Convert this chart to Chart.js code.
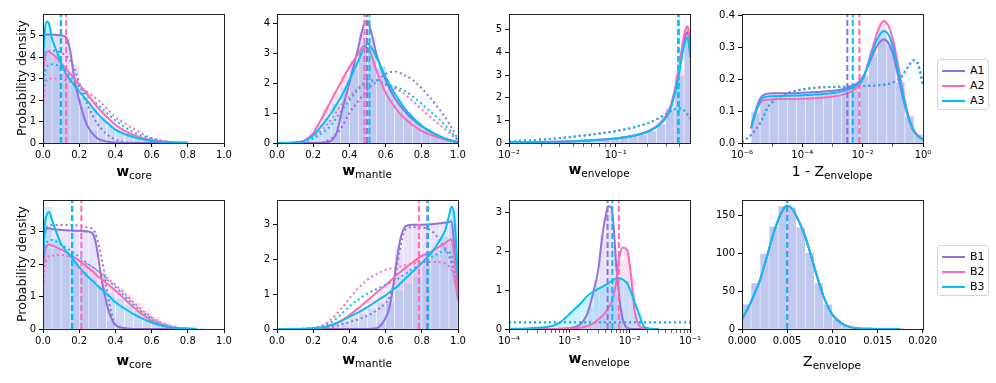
<!DOCTYPE html>
<html>
<head>
<meta charset="utf-8">
<script src="https://cdn.jsdelivr.net/npm/chart.js@4.4.1/dist/chart.umd.min.js"></script>
<style>
  html, body { margin: 0; padding: 0; background: #fff; }
  body { width: 996px; height: 383px; position: relative; overflow: hidden; font-family: 'DejaVu Sans', sans-serif; }
  canvas { position: absolute; }
  .xl { position: absolute; font-size: 14px; line-height: 14px; white-space: nowrap; transform: translateX(-50%); color: #000; }
  .xl b { font-weight: bold; }
  .xl .s { font-size: 10.5px; position: relative; top: 3px; }
  .yl { position: absolute; font-size: 12.5px; line-height: 13px; white-space: nowrap; transform: translate(-50%, -50%) rotate(-90deg); color: #000; }
  .leg { position: absolute; border: 1px solid #d4d4d4; border-radius: 3px; background: #fff; box-sizing: border-box; }
  .leg .row { position: absolute; left: 0; height: 14px; width: 100%; }
  .leg .sw { position: absolute; left: 4px; top: 6px; width: 23px; height: 2px; }
  .leg .tx { position: absolute; left: 32px; top: 0; font-size: 11px; line-height: 14px; color: #000; }
</style>
</head>
<body>
<script>
// ---------------- colours / series names ----------------
const seriesA = ['A1', 'A2', 'A3'];
const seriesB = ['B1', 'B2', 'B3'];
const seriesColors = ['#9370DB', '#FF69B4', '#00BFFF'];

// ---------------- tick labels ----------------
const ticksUnit = [0, 0.2, 0.4, 0.6, 0.8, 1.0];
const ticksUnitLabels = ['0.0', '0.2', '0.4', '0.6', '0.8', '1.0'];
const ticksEnvA = [0.01, 0.1];
const ticksEnvALabels = ['10⁻²', '10⁻¹'];
const ticksEnvAMinor = [0.02, 0.03, 0.04, 0.05, 0.06, 0.07, 0.08, 0.09, 0.2, 0.3, 0.4];
const ticksZA = [1e-6, 1e-4, 1e-2, 1];
const ticksZALabels = ['10⁻⁶', '10⁻⁴', '10⁻²', '10⁰'];
const ticksZAMinor = [1e-5, 1e-3, 1e-1];
const ticksEnvB = [1e-4, 1e-3, 1e-2, 1e-1];
const ticksEnvBLabels = ['10⁻⁴', '10⁻³', '10⁻²', '10⁻¹'];
const ticksEnvBMinor = [2e-4, 3e-4, 4e-4, 5e-4, 6e-4, 7e-4, 8e-4, 9e-4, 2e-3, 3e-3, 4e-3, 5e-3, 6e-3, 7e-3, 8e-3, 9e-3, 2e-2, 3e-2, 4e-2, 5e-2, 6e-2, 7e-2, 8e-2, 9e-2];
const ticksZB = [0, 0.005, 0.01, 0.015, 0.02];
const ticksZBLabels = ['0.000', '0.005', '0.010', '0.015', '0.020'];
const yTicks1 = [0, 1, 2, 3, 4, 5];
const yTicks2 = [0, 1, 2, 3, 4];
const yTicks4 = [0, 0.1, 0.2, 0.3, 0.4];
const yTicks4Labels = ['0.0', '0.1', '0.2', '0.3', '0.4'];
const yTicksB = [0, 1, 2, 3];
const yTicks8 = [0, 50, 100, 150];

// ---------------- Panel 1 : A, w_core ----------------
const p1_grid = [0, 0.01, 0.02, 0.03, 0.05, 0.075, 0.1, 0.125, 0.15, 0.175, 0.2, 0.225, 0.25, 0.3, 0.35, 0.4, 0.45, 0.5, 0.55, 0.6, 0.7, 0.8];
const p1_A1 = [4.9, 5.02, 5.05, 5.05, 5.05, 5.02, 5.0, 4.93, 4.3, 2.9, 2.0, 1.25, 0.72, 0.22, 0.07, 0.02, 0.005, 0, 0, 0, 0, 0];
const p1_A2 = [3.3, 4.05, 4.25, 4.25, 4.15, 3.97, 3.72, 3.45, 3.22, 2.98, 2.72, 2.47, 2.22, 1.68, 1.23, 0.85, 0.58, 0.38, 0.24, 0.14, 0.04, 0.01];
const p1_A3 = [3.6, 5.2, 5.65, 5.6, 4.85, 4.28, 3.7, 3.25, 2.95, 2.65, 2.4, 2.15, 1.9, 1.38, 0.97, 0.62, 0.42, 0.28, 0.17, 0.09, 0.03, 0.01];
const p1_A1d = [2.9, 3.9, 4.15, 4.25, 4.3, 4.28, 4.2, 4.08, 3.85, 3.4, 2.8, 2.2, 1.7, 0.9, 0.43, 0.15, 0.05, 0.01, 0, 0, 0, 0];
const p1_A2d = [1.7, 2.6, 2.9, 2.98, 3.0, 3.0, 2.98, 2.92, 2.85, 2.75, 2.66, 2.5, 2.35, 2.03, 1.62, 1.2, 0.92, 0.66, 0.42, 0.23, 0.05, 0.01];
const p1_A3d = [2.4, 3.2, 3.5, 3.62, 3.66, 3.62, 3.5, 3.32, 3.1, 2.85, 2.6, 2.38, 2.15, 1.8, 1.42, 1.05, 0.75, 0.5, 0.33, 0.2, 0.05, 0.01];
const p1_bins = [0.025, 0.075, 0.125, 0.175, 0.225, 0.275, 0.325, 0.375, 0.425, 0.475, 0.525, 0.575, 0.625, 0.675, 0.725, 0.775];
const p1_hA1 = [5.0, 5.05, 4.95, 3.6, 1.65, 0.55, 0.15, 0.04, 0.01, 0, 0, 0, 0, 0, 0, 0];
const p1_hA2 = [4.1, 3.95, 3.45, 2.95, 2.45, 1.95, 1.45, 1.02, 0.7, 0.46, 0.3, 0.19, 0.1, 0.05, 0.02, 0.01];
const p1_hA3 = [5.4, 4.2, 3.25, 2.65, 2.1, 1.6, 1.15, 0.78, 0.52, 0.35, 0.22, 0.13, 0.07, 0.03, 0.01, 0.01];
const p1_medians = [0.098, 0.128, 0.100];

// ---------------- Panel 2 : A, w_mantle ----------------
const p2_grid = [0, 0.1, 0.15, 0.2, 0.25, 0.3, 0.33, 0.36, 0.4, 0.45, 0.48, 0.5, 0.52, 0.55, 0.6, 0.65, 0.7, 0.75, 0.8, 0.85, 0.9, 0.95, 1.0];
const p2_A1 = [0, 0, 0, 0, 0.01, 0.08, 0.35, 1.1, 2.0, 3.2, 3.95, 4.05, 3.7, 2.95, 2.1, 1.5, 1.1, 0.78, 0.55, 0.36, 0.22, 0.11, 0.03];
const p2_A2 = [0, 0.02, 0.08, 0.33, 0.85, 1.43, 1.77, 2.1, 2.53, 2.97, 3.25, 3.15, 2.95, 2.4, 1.68, 1.2, 0.85, 0.6, 0.4, 0.27, 0.17, 0.08, 0.02];
const p2_A3 = [0, 0.02, 0.07, 0.25, 0.6, 1.0, 1.3, 1.6, 2.1, 2.75, 3.15, 3.3, 3.2, 2.85, 2.2, 1.65, 1.2, 0.85, 0.57, 0.38, 0.22, 0.1, 0.02];
const p2_A1d = [0, 0, 0, 0, 0.02, 0.15, 0.3, 0.55, 1.0, 1.4, 1.62, 1.76, 1.9, 2.05, 2.3, 2.38, 2.28, 2.1, 1.82, 1.48, 1.1, 0.66, 0.12];
const p2_A2d = [0, 0.02, 0.05, 0.2, 0.45, 0.77, 1.05, 1.3, 1.54, 1.85, 2.0, 2.09, 2.1, 2.1, 1.95, 1.82, 1.65, 1.4, 1.12, 0.85, 0.6, 0.35, 0.08];
const p2_A3d = [0, 0.01, 0.04, 0.15, 0.33, 0.6, 0.85, 1.1, 1.43, 1.8, 1.97, 2.04, 2.07, 2.08, 1.95, 1.88, 1.76, 1.55, 1.3, 1.03, 0.77, 0.45, 0.1];
const p2_bins = [0.025, 0.075, 0.125, 0.175, 0.225, 0.275, 0.325, 0.375, 0.425, 0.475, 0.525, 0.575, 0.625, 0.675, 0.725, 0.775, 0.825, 0.875, 0.925, 0.975];
const p2_hA1 = [0, 0, 0, 0, 0, 0.02, 0.3, 1.3, 2.6, 3.7, 3.5, 2.5, 1.8, 1.3, 0.93, 0.66, 0.45, 0.29, 0.16, 0.06];
const p2_hA2 = [0, 0.01, 0.05, 0.2, 0.6, 1.15, 1.7, 2.25, 2.75, 3.15, 2.7, 2.0, 1.45, 1.0, 0.72, 0.5, 0.33, 0.22, 0.12, 0.05];
const p2_hA3 = [0, 0.01, 0.04, 0.15, 0.42, 0.8, 1.3, 1.85, 2.4, 3.0, 3.1, 2.55, 1.9, 1.42, 1.02, 0.7, 0.47, 0.3, 0.16, 0.06];
const p2_medians = [0.497, 0.483, 0.511];

// ---------------- Panel 3 : A, w_envelope (log) ----------------
const p3_grid = [0.01, 0.02, 0.03, 0.05, 0.07, 0.1, 0.15, 0.2, 0.25, 0.3, 0.33, 0.36, 0.39, 0.42, 0.44, 0.46, 0.47, 0.48, 0.49, 0.5];
const p3_A1 = [0.02, 0.04, 0.06, 0.1, 0.14, 0.2, 0.33, 0.5, 0.78, 1.2, 1.65, 2.3, 3.15, 4.1, 4.6, 4.85, 4.9, 4.8, 4.5, 4.1];
const p3_A2 = [0.02, 0.04, 0.06, 0.1, 0.14, 0.2, 0.33, 0.52, 0.8, 1.25, 1.7, 2.4, 3.25, 4.25, 4.8, 5.1, 5.15, 5.05, 4.7, 4.3];
const p3_A3 = [0.02, 0.04, 0.06, 0.1, 0.14, 0.2, 0.32, 0.5, 0.75, 1.15, 1.55, 2.2, 2.95, 3.85, 4.35, 4.62, 4.66, 4.55, 4.2, 3.8];
const p3_prior = [0.07, 0.15, 0.22, 0.33, 0.42, 0.52, 0.7, 0.87, 1.08, 1.3, 1.42, 1.5, 1.53, 1.5, 1.43, 1.33, 1.27, 1.2, 1.13, 1.08];
const p3_bins = [0.01103, 0.01346, 0.01643, 0.02005, 0.02447, 0.02985, 0.03643, 0.04446, 0.05425, 0.0662, 0.0808, 0.0986, 0.1203, 0.1468, 0.1791, 0.2186, 0.2667, 0.3255, 0.3972, 0.4847];
const p3_hA1 = [0.02, 0.03, 0.04, 0.05, 0.06, 0.07, 0.09, 0.1, 0.12, 0.14, 0.16, 0.19, 0.23, 0.28, 0.36, 0.5, 0.8, 1.5, 3.0, 4.8];
const p3_hA2 = [0.02, 0.03, 0.04, 0.05, 0.06, 0.07, 0.09, 0.1, 0.12, 0.14, 0.16, 0.19, 0.23, 0.28, 0.37, 0.52, 0.82, 1.55, 3.2, 5.2];
const p3_hA3 = [0.02, 0.03, 0.04, 0.05, 0.06, 0.07, 0.09, 0.1, 0.12, 0.14, 0.16, 0.19, 0.23, 0.28, 0.36, 0.5, 0.78, 1.45, 2.9, 4.5];
const p3_medians = [0.388, 0.392, 0.386];

// ---------------- Panel 4 : A, 1 - Z_envelope (log) ----------------
const p4_grid = [2e-6, 3e-6, 4e-6, 5e-6, 7e-6, 1e-5, 3e-5, 1e-4, 3e-4, 1e-3, 3e-3, 6e-3, 1e-2, 2e-2, 3e-2, 5e-2, 7e-2, 0.1, 0.15, 0.2, 0.3, 0.5, 0.7, 1.0];
const p4_A1 = [0.047, 0.11, 0.14, 0.15, 0.155, 0.156, 0.156, 0.158, 0.16, 0.164, 0.172, 0.185, 0.205, 0.27, 0.305, 0.325, 0.315, 0.28, 0.21, 0.155, 0.09, 0.035, 0.02, 0.01];
const p4_A2 = [0.045, 0.1, 0.125, 0.133, 0.136, 0.137, 0.138, 0.139, 0.141, 0.146, 0.156, 0.172, 0.2, 0.29, 0.345, 0.383, 0.37, 0.325, 0.245, 0.18, 0.1, 0.04, 0.022, 0.012];
const p4_A3 = [0.047, 0.105, 0.133, 0.142, 0.146, 0.147, 0.148, 0.15, 0.152, 0.157, 0.166, 0.18, 0.2, 0.28, 0.325, 0.352, 0.342, 0.303, 0.228, 0.168, 0.095, 0.037, 0.021, 0.011];
const p4_priorGrid = [1e-6, 2e-6, 3e-6, 4e-6, 5e-6, 7e-6, 1e-5, 3e-5, 1e-4, 3e-4, 1e-3, 3e-3, 1e-2, 3e-2, 0.1, 0.2, 0.3, 0.5, 0.7, 1.0];
const p4_prior = [0.003, 0.025, 0.045, 0.062, 0.08, 0.11, 0.128, 0.155, 0.168, 0.174, 0.176, 0.177, 0.179, 0.181, 0.19, 0.21, 0.235, 0.26, 0.245, 0.18];
const p4_bins = [2.82e-6, 5.62e-6, 1.12e-5, 2.24e-5, 4.47e-5, 8.91e-5, 1.78e-4, 3.55e-4, 7.08e-4, 1.41e-3, 2.82e-3, 5.62e-3, 1.12e-2, 2.24e-2, 4.47e-2, 8.91e-2, 0.178, 0.355, 0.708];
const p4_hA1 = [0.1, 0.15, 0.155, 0.156, 0.156, 0.157, 0.158, 0.16, 0.162, 0.165, 0.17, 0.185, 0.215, 0.27, 0.33, 0.3, 0.19, 0.085, 0.025];
const p4_hA2 = [0.09, 0.13, 0.136, 0.137, 0.138, 0.139, 0.14, 0.141, 0.143, 0.147, 0.155, 0.172, 0.205, 0.29, 0.38, 0.33, 0.19, 0.08, 0.025];
const p4_hA3 = [0.095, 0.14, 0.146, 0.147, 0.148, 0.149, 0.15, 0.152, 0.154, 0.158, 0.165, 0.18, 0.21, 0.28, 0.355, 0.315, 0.19, 0.082, 0.025];
const p4_medians = [3.1e-3, 7.8e-3, 4.7e-3];

// ---------------- Panel 5 : B, w_core ----------------
const p5_grid = [0, 0.01, 0.02, 0.035, 0.05, 0.1, 0.15, 0.2, 0.25, 0.28, 0.3, 0.32, 0.34, 0.36, 0.38, 0.4, 0.45, 0.5, 0.55, 0.6, 0.65, 0.7, 0.75, 0.8, 0.85];
const p5_B1 = [2.6, 3.0, 3.08, 3.1, 3.08, 3.05, 3.03, 3.02, 3.0, 2.88, 2.4, 1.65, 1.08, 0.6, 0.3, 0.12, 0.03, 0, 0, 0, 0, 0, 0, 0, 0];
const p5_B2 = [1.8, 2.35, 2.55, 2.6, 2.57, 2.45, 2.28, 2.1, 1.88, 1.75, 1.64, 1.55, 1.46, 1.37, 1.28, 1.18, 0.93, 0.67, 0.45, 0.26, 0.13, 0.05, 0.02, 0.01, 0];
const p5_B3 = [2.0, 3.2, 3.5, 3.6, 3.35, 2.62, 2.26, 1.9, 1.6, 1.45, 1.34, 1.24, 1.14, 1.04, 0.93, 0.82, 0.63, 0.46, 0.32, 0.2, 0.11, 0.05, 0.02, 0.01, 0];
const p5_B1d = [2.5, 2.9, 3.1, 3.18, 3.2, 3.2, 3.2, 3.18, 3.12, 3.05, 2.75, 2.3, 1.7, 0.98, 0.45, 0.15, 0.02, 0, 0, 0, 0, 0, 0, 0, 0];
const p5_B2d = [1.3, 1.9, 2.15, 2.25, 2.26, 2.28, 2.22, 2.12, 1.98, 1.88, 1.8, 1.72, 1.63, 1.54, 1.45, 1.36, 1.1, 0.82, 0.57, 0.36, 0.2, 0.1, 0.04, 0.02, 0.01];
const p5_B3d = [1.9, 2.45, 2.65, 2.73, 2.74, 2.6, 2.42, 2.22, 2.0, 1.88, 1.8, 1.7, 1.6, 1.5, 1.4, 1.3, 1.02, 0.76, 0.52, 0.32, 0.17, 0.08, 0.03, 0.01, 0];
const p5_bins = [0.025, 0.075, 0.125, 0.175, 0.225, 0.275, 0.325, 0.375, 0.425, 0.475, 0.525, 0.575, 0.625, 0.675, 0.725, 0.775, 0.825, 0.875];
const p5_hB1 = [3.05, 3.05, 3.05, 3.05, 3.05, 3.0, 1.35, 0.25, 0.04, 0.01, 0, 0, 0, 0, 0, 0, 0, 0];
const p5_hB2 = [2.45, 2.45, 2.3, 2.15, 1.95, 1.78, 1.6, 1.42, 1.25, 1.05, 0.8, 0.56, 0.36, 0.2, 0.09, 0.03, 0.01, 0];
const p5_hB3 = [3.75, 2.75, 2.35, 2.05, 1.75, 1.5, 1.3, 1.1, 0.92, 0.72, 0.55, 0.39, 0.26, 0.15, 0.08, 0.03, 0.01, 0];
const p5_medians = [0.16, 0.212, 0.162];

// ---------------- Panel 6 : B, w_mantle ----------------
const p6_grid = [0, 0.1, 0.2, 0.25, 0.3, 0.35, 0.4, 0.45, 0.5, 0.55, 0.58, 0.6, 0.62, 0.64, 0.66, 0.68, 0.7, 0.72, 0.75, 0.8, 0.85, 0.9, 0.93, 0.95, 0.965, 0.98, 1.0];
const p6_B1 = [0, 0, 0, 0, 0, 0, 0, 0, 0, 0.02, 0.15, 0.32, 0.6, 1.15, 1.9, 2.55, 2.88, 2.98, 3.0, 3.0, 3.01, 3.04, 3.06, 3.08, 3.1, 2.3, 0.9];
const p6_B2 = [0, 0, 0.01, 0.04, 0.1, 0.22, 0.4, 0.6, 0.82, 1.05, 1.18, 1.26, 1.35, 1.45, 1.55, 1.63, 1.72, 1.8, 1.92, 2.1, 2.22, 2.38, 2.47, 2.55, 2.58, 2.0, 0.85];
const p6_B3 = [0, 0, 0.02, 0.05, 0.12, 0.22, 0.35, 0.48, 0.63, 0.8, 0.9, 0.97, 1.05, 1.13, 1.2, 1.3, 1.4, 1.5, 1.65, 1.9, 2.17, 2.55, 2.85, 3.25, 3.52, 3.2, 1.4];
const p6_B1d = [0, 0, 0.01, 0.03, 0.06, 0.12, 0.2, 0.28, 0.38, 0.53, 0.65, 0.75, 0.9, 1.2, 1.7, 2.3, 2.75, 2.9, 2.93, 2.92, 2.84, 2.55, 2.3, 2.1, 1.9, 1.5, 0.9];
const p6_B2d = [0, 0, 0.03, 0.1, 0.28, 0.55, 0.88, 1.18, 1.42, 1.58, 1.65, 1.7, 1.73, 1.76, 1.78, 1.8, 1.83, 1.85, 1.88, 1.92, 1.93, 1.92, 1.88, 1.8, 1.7, 1.4, 0.84];
const p6_B3d = [0, 0, 0.03, 0.08, 0.2, 0.4, 0.65, 0.85, 1.02, 1.15, 1.22, 1.27, 1.32, 1.37, 1.42, 1.48, 1.55, 1.62, 1.72, 1.9, 2.05, 2.2, 2.26, 2.22, 2.1, 1.8, 1.1];
const p6_bins = [0.025, 0.075, 0.125, 0.175, 0.225, 0.275, 0.325, 0.375, 0.425, 0.475, 0.525, 0.575, 0.625, 0.675, 0.725, 0.775, 0.825, 0.875, 0.925, 0.975];
const p6_hB1 = [0, 0, 0, 0, 0, 0, 0, 0, 0, 0, 0.01, 0.15, 0.75, 2.35, 2.98, 3.0, 3.0, 3.02, 3.05, 3.0];
const p6_hB2 = [0, 0, 0, 0, 0.01, 0.05, 0.12, 0.25, 0.42, 0.62, 0.85, 1.1, 1.35, 1.55, 1.75, 1.95, 2.12, 2.28, 2.45, 2.55];
const p6_hB3 = [0, 0, 0, 0, 0.01, 0.04, 0.1, 0.2, 0.3, 0.43, 0.58, 0.75, 0.92, 1.1, 1.3, 1.52, 1.8, 2.15, 2.65, 3.45];
const p6_medians = [0.83, 0.784, 0.834];

// ---------------- Panel 7 : B, w_envelope (log) ----------------
const p7_grid = [1e-4, 2e-4, 3e-4, 5e-4, 7e-4, 1e-3, 1.3e-3, 1.6e-3, 2e-3, 2.5e-3, 3e-3, 3.5e-3, 4e-3, 4.5e-3, 5e-3, 5.5e-3, 6e-3, 6.5e-3, 7e-3, 7.7e-3, 8.5e-3, 9.3e-3, 1.05e-2, 1.2e-2, 1.4e-2, 1.7e-2, 2e-2, 3e-2];
const p7_B1 = [0, 0, 0, 0, 0.005, 0.02, 0.06, 0.15, 0.4, 0.95, 1.5, 2.35, 2.9, 3.15, 3.1, 2.5, 1.6, 1.05, 0.6, 0.24, 0.08, 0.02, 0, 0, 0, 0, 0, 0];
const p7_B2 = [0, 0, 0, 0, 0.005, 0.01, 0.02, 0.04, 0.08, 0.15, 0.24, 0.33, 0.43, 0.55, 0.7, 0.92, 1.2, 1.7, 1.95, 2.09, 2.07, 1.97, 1.4, 0.5, 0.12, 0.02, 0, 0];
const p7_B3 = [0.005, 0.015, 0.03, 0.07, 0.17, 0.38, 0.55, 0.68, 0.85, 0.96, 1.03, 1.08, 1.13, 1.18, 1.23, 1.27, 1.3, 1.31, 1.3, 1.27, 1.22, 1.15, 0.95, 0.7, 0.42, 0.08, 0.02, 0];
const p7_priorGrid = [1e-4, 1e-1];
const p7_prior = [0.17, 0.17];
const p7_bins = [5.62e-4, 7.08e-4, 8.91e-4, 1.12e-3, 1.41e-3, 1.78e-3, 2.24e-3, 2.82e-3, 3.55e-3, 4.47e-3, 5.62e-3, 7.08e-3, 8.91e-3, 1.12e-2, 1.41e-2, 1.78e-2, 2.24e-2];
const p7_hB1 = [0, 0, 0.01, 0.03, 0.08, 0.2, 0.55, 1.25, 2.4, 3.05, 2.1, 0.5, 0.05, 0, 0, 0, 0];
const p7_hB2 = [0, 0, 0.01, 0.01, 0.03, 0.05, 0.1, 0.2, 0.33, 0.5, 0.9, 1.75, 2.05, 1.3, 0.2, 0.02, 0];
const p7_hB3 = [0.1, 0.17, 0.3, 0.45, 0.6, 0.75, 0.88, 0.98, 1.08, 1.16, 1.25, 1.3, 1.22, 0.9, 0.4, 0.06, 0.01];
const p7_medians = [4.3e-3, 6.6e-3, 5.16e-3];

// ---------------- Panel 8 : B, Z_envelope ----------------
const p8_grid = [0, 0.0005, 0.001, 0.0015, 0.002, 0.0025, 0.003, 0.0035, 0.004, 0.0045, 0.005, 0.0055, 0.006, 0.0065, 0.007, 0.0075, 0.008, 0.0085, 0.009, 0.0095, 0.01, 0.011, 0.012, 0.013, 0.014, 0.015, 0.0175];
const p8_kde = [13, 24, 36, 50, 65, 85, 106, 127, 144, 157, 163, 160, 150, 137, 122, 103, 82, 62, 44, 30, 19, 7.5, 2.5, 0.8, 0.3, 0.1, 0];
const p8_bins = [0.0005, 0.0015, 0.0025, 0.0035, 0.0045, 0.0055, 0.0065, 0.0075, 0.0085, 0.0095, 0.0105, 0.0115, 0.0125, 0.0135, 0.0145, 0.0155, 0.0165, 0.0175];
const p8_hist = [32, 60, 99, 135, 162, 160, 134, 100, 60, 32, 12, 4, 1.2, 0.4, 0.1, 0.05, 0.02, 0.01];
const p8_medians = [0.005, 0.005, 0.005];

// ================= layout helpers =================
const YW = 34, PADT = 8, PADR = 16, XH = 24;

function rgba(hex, a) {
  const n = parseInt(hex.slice(1), 16);
  return `rgba(${(n >> 16) & 255},${(n >> 8) & 255},${n & 255},${a})`;
}
function pts(xs, ys) { return xs.map((x, i) => ({ x: x, y: ys[i] })); }

const framePlugin = {
  id: 'frame',
  afterDraw(chart) {
    const a = chart.chartArea, ctx = chart.ctx;
    ctx.save();
    ctx.strokeStyle = '#222';
    ctx.lineWidth = 1;
    ctx.strokeRect(Math.floor(a.left) + 0.5, Math.floor(a.top) + 0.5, Math.round(a.right - a.left), Math.round(a.bottom - a.top));
    ctx.restore();
  }
};

function tickList(major, labels, minor) {
  const t = major.map((v, i) => ({ value: v, lab: labels[i], major: true }));
  (minor || []).forEach(v => t.push({ value: v, lab: '', major: false }));
  t.sort((a, b) => a.value - b.value);
  return t;
}

function panel(p) {
  const w = (p.rect[2] - p.rect[0]) + YW + PADR;
  const h = (p.rect[3] - p.rect[1]) + PADT + XH;
  const c = document.createElement('canvas');
  c.width = w; c.height = h;
  c.style.left = (p.rect[0] - YW) + 'px';
  c.style.top = (p.rect[1] - PADT) + 'px';
  c.style.width = w + 'px'; c.style.height = h + 'px';
  document.body.appendChild(c);

  const ds = [];
  p.hist.forEach((hv, i) => ds.push({
    type: 'bar', data: pts(p.bins, hv), backgroundColor: rgba(seriesColors[i], 0.2),
    borderWidth: 0, stack: 'hist', barThickness: 'flex', barPercentage: 1, categoryPercentage: 0.86,
    order: 400 - i
  }));
  p.prior.forEach((pv, i) => ds.push({
    type: 'line', data: pts(p.priorGrid, pv), borderColor: seriesColors[i], borderWidth: 2,
    borderDash: [2, 3], pointRadius: 0, fill: false, cubicInterpolationMode: 'monotone', order: 300 - i
  }));
  p.kde.forEach((kv, i) => ds.push({
    type: 'line', data: pts(p.grid, kv), borderColor: seriesColors[i], borderWidth: 2,
    pointRadius: 0, fill: false, cubicInterpolationMode: 'monotone', order: 200 - i
  }));
  p.medians.forEach((m, i) => ds.push({
    type: 'line', data: [{ x: m, y: 0 }, { x: m, y: p.yMax }], borderColor: seriesColors[i], borderWidth: 2,
    borderDash: [6, 3], pointRadius: 0, fill: false, order: 100 - i
  }));

  const xt = tickList(p.xTicks, p.xLabels, p.xMinor);
  const yt = tickList(p.yTicks, p.yLabels, []);
  const font = { family: 'DejaVu Sans', size: 10 };
  const grid = {
    display: true, drawOnChartArea: false, drawTicks: true, tickLength: 4, color: '#000',
    tickColor: '#000', offset: false,
    tickWidth: (ctx) => (ctx.tick && ctx.tick.major === false) ? 0.6 : 1
  };

  new Chart(c, {
    type: 'bar',
    data: { datasets: ds },
    options: {
      responsive: false, animation: false, devicePixelRatio: 1,
      layout: { padding: { top: PADT, right: PADR, left: 0, bottom: 0 } },
      plugins: { legend: { display: false }, tooltip: { enabled: false } },
      scales: {
        x: {
          type: p.xType, min: p.xMin, max: p.xMax, offset: false,
          grid: grid, border: { display: false },
          ticks: { autoSkip: false, maxRotation: 0, minRotation: 0, padding: 2, color: '#000', font: font,
            callback: (v, i, t) => t[i].lab },
          afterBuildTicks: (s) => { s.ticks = xt.map(o => Object.assign({}, o)); },
          afterFit: (s) => { s.height = XH; }
        },
        y: {
          type: 'linear', min: 0, max: p.yMax, stacked: false,
          grid: grid, border: { display: false },
          ticks: { autoSkip: false, padding: 3, color: '#000', font: font,
            callback: (v, i, t) => t[i].lab },
          afterBuildTicks: (s) => { s.ticks = yt.map(o => Object.assign({}, o)); },
          afterFit: (s) => { s.width = YW; }
        }
      }
    },
    plugins: [framePlugin]
  });
}

function addText(cls, html, x, y) {
  const d = document.createElement('div');
  d.className = cls; d.innerHTML = html;
  d.style.left = x + 'px'; d.style.top = y + 'px';
  document.body.appendChild(d);
}

function addLegend(names, left, top) {
  const box = document.createElement('div');
  box.className = 'leg';
  box.style.left = left + 'px'; box.style.top = top + 'px';
  box.style.width = '52px'; box.style.height = '51px';
  names.forEach((n, i) => {
    const r = document.createElement('div');
    r.className = 'row'; r.style.top = (4 + i * 15) + 'px';
    r.innerHTML = `<div class="sw" style="background:${seriesColors[i]}"></div><div class="tx">${n}</div>`;
    box.appendChild(r);
  });
  document.body.appendChild(box);
}

// ================= build =================
const unitLab = ticksUnitLabels;
const ints = (a) => a.map(v => String(v));

panel({ rect: [43, 13, 224, 143], xType: 'linear', xMin: 0, xMax: 1, yMax: 6.0,
  xTicks: ticksUnit, xLabels: unitLab, yTicks: yTicks1, yLabels: ints(yTicks1),
  bins: p1_bins, hist: [p1_hA1, p1_hA2, p1_hA3],
  grid: p1_grid, kde: [p1_A1, p1_A2, p1_A3],
  priorGrid: p1_grid, prior: [p1_A1d, p1_A2d, p1_A3d], medians: p1_medians });

panel({ rect: [277, 13, 458, 143], xType: 'linear', xMin: 0, xMax: 1, yMax: 4.3,
  xTicks: ticksUnit, xLabels: unitLab, yTicks: yTicks2, yLabels: ints(yTicks2),
  bins: p2_bins, hist: [p2_hA1, p2_hA2, p2_hA3],
  grid: p2_grid, kde: [p2_A1, p2_A2, p2_A3],
  priorGrid: p2_grid, prior: [p2_A1d, p2_A2d, p2_A3d], medians: p2_medians });

panel({ rect: [509, 13, 690, 143], xType: 'logarithmic', xMin: 0.01, xMax: 0.498, yMax: 5.7,
  xTicks: ticksEnvA, xLabels: ticksEnvALabels, xMinor: ticksEnvAMinor, yTicks: yTicks1, yLabels: ints(yTicks1),
  bins: p3_bins, hist: [p3_hA1, p3_hA2, p3_hA3],
  grid: p3_grid, kde: [p3_A1, p3_A2, p3_A3],
  priorGrid: p3_grid, prior: [p3_prior, p3_prior, p3_prior], medians: p3_medians });

panel({ rect: [742, 13, 923, 143], xType: 'logarithmic', xMin: 1e-6, xMax: 1, yMax: 0.405,
  xTicks: ticksZA, xLabels: ticksZALabels, xMinor: ticksZAMinor, yTicks: yTicks4, yLabels: yTicks4Labels,
  bins: p4_bins, hist: [p4_hA1, p4_hA2, p4_hA3],
  grid: p4_grid, kde: [p4_A1, p4_A2, p4_A3],
  priorGrid: p4_priorGrid, prior: [p4_prior, p4_prior, p4_prior], medians: p4_medians });

panel({ rect: [43, 199, 224, 329], xType: 'linear', xMin: 0, xMax: 1, yMax: 3.97,
  xTicks: ticksUnit, xLabels: unitLab, yTicks: yTicksB, yLabels: ints(yTicksB),
  bins: p5_bins, hist: [p5_hB1, p5_hB2, p5_hB3],
  grid: p5_grid, kde: [p5_B1, p5_B2, p5_B3],
  priorGrid: p5_grid, prior: [p5_B1d, p5_B2d, p5_B3d], medians: p5_medians });

panel({ rect: [277, 199, 458, 329], xType: 'linear', xMin: 0, xMax: 1, yMax: 3.71,
  xTicks: ticksUnit, xLabels: unitLab, yTicks: yTicksB, yLabels: ints(yTicksB),
  bins: p6_bins, hist: [p6_hB1, p6_hB2, p6_hB3],
  grid: p6_grid, kde: [p6_B1, p6_B2, p6_B3],
  priorGrid: p6_grid, prior: [p6_B1d, p6_B2d, p6_B3d], medians: p6_medians });

panel({ rect: [509, 199, 690, 329], xType: 'logarithmic', xMin: 1e-4, xMax: 0.1, yMax: 3.31,
  xTicks: ticksEnvB, xLabels: ticksEnvBLabels, xMinor: ticksEnvBMinor, yTicks: yTicksB, yLabels: ints(yTicksB),
  bins: p7_bins, hist: [p7_hB1, p7_hB2, p7_hB3],
  grid: p7_grid, kde: [p7_B1, p7_B2, p7_B3],
  priorGrid: p7_priorGrid, prior: [p7_prior, p7_prior, p7_prior], medians: p7_medians });

panel({ rect: [742, 199, 923, 329], xType: 'linear', xMin: 0, xMax: 0.02, yMax: 170.7,
  xTicks: ticksZB, xLabels: ticksZBLabels, yTicks: yTicks8, yLabels: ints(yTicks8),
  bins: p8_bins, hist: [p8_hist, p8_hist, p8_hist],
  grid: p8_grid, kde: [p8_kde, p8_kde, p8_kde],
  priorGrid: [], prior: [], medians: p8_medians });

// axis titles
addText('yl', 'Probability density', 21, 78);
addText('yl', 'Probability density', 21, 264);
addText('xl', '<b>w</b><span class="s">core</span>', 134, 164);
addText('xl', '<b>w</b><span class="s">mantle</span>', 367, 163);
addText('xl', '<b>w</b><span class="s">envelope</span>', 599, 162);
addText('xl', '1 - Z<span class="s">envelope</span>', 832, 164);
addText('xl', '<b>w</b><span class="s">core</span>', 134, 353);
addText('xl', '<b>w</b><span class="s">mantle</span>', 367, 352);
addText('xl', '<b>w</b><span class="s">envelope</span>', 599, 351);
addText('xl', 'Z<span class="s">envelope</span>', 832, 354);

addLegend(seriesA, 937, 59);
addLegend(seriesB, 937, 245);
</script>
</body>
</html>
